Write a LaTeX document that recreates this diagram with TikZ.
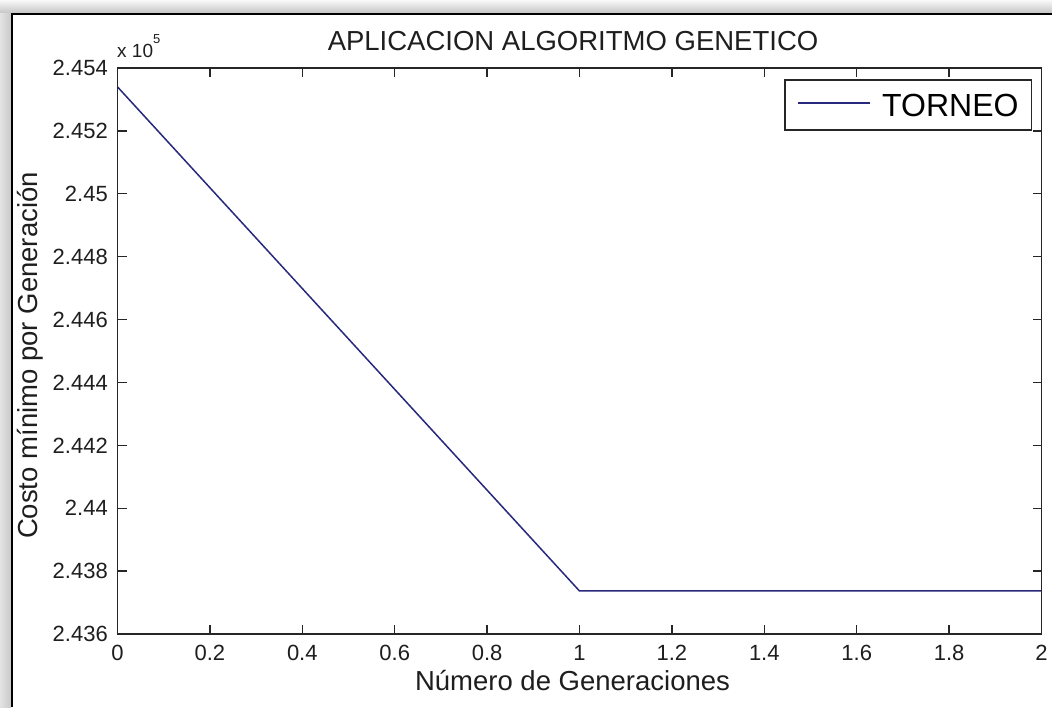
\documentclass[tikz,border=0pt]{standalone}
\usepackage{fontspec}
\setmainfont{Liberation Sans}
\definecolor{plotblue}{RGB}{40,40,125}
\definecolor{txt}{RGB}{30,30,30}
\begin{document}
\begin{tikzpicture}[x=1pt,y=-1pt,
  ticklab/.style={inner sep=0pt,text=txt,font=\fontsize{22}{26}\selectfont},
  axlab/.style={inner sep=0pt,text=txt,font=\fontsize{27.5}{32}\selectfont},
  axline/.style={line width=1.6pt,black!85},
  tickline/.style={line width=1.4pt,black!85},
  dataline/.style={line width=1.5pt,plotblue}]
\useasboundingbox (0,0) rectangle (1052,707);
\fill[white] (0,0) rectangle (1052,707);
% window shadow and frame
\shade[top color=gray!5,bottom color=gray!45] (0,0) rectangle (1052,13);
\shade[left color=gray!22,right color=gray!42] (0,13) rectangle (11,707);
\draw[line width=2.5pt,black] (12,707) -- (12,14) -- (1052,14);
% axes
\begin{scope}[shift={(117.5,634)},x=462pt,y=62.889pt]
  \coordinate (O) at (0,0);
  \coordinate (TR) at (2,9);
  \draw[dataline] (0,8.70) coordinate (d0) -- (1,0.684) coordinate (d1) -- (2,0.684) coordinate (d2);
  \foreach \i/\t in {0/0,1/0.2,2/0.4,3/0.6,4/0.8,5/1,6/1.2,7/1.4,8/1.6,9/1.8,10/2}{
    \draw[tickline] (\i*0.2,0) -- ++(0pt,9pt);
    \draw[tickline] (\i*0.2,9) -- ++(0pt,-9pt);
    \node[ticklab,anchor=north] (xl\i) at ([yshift=-11pt]\i*0.2,0) {\t};
  }
  \foreach \k/\t in {0/2.436,1/2.438,2/2.44,3/2.442,4/2.444,5/2.446,6/2.448,7/2.45,8/2.452,9/2.454}{
    \draw[tickline] (0,\k) -- ++(9pt,0pt);
    \draw[tickline] (2,\k) -- ++(-9pt,0pt);
    \node[ticklab,anchor=east] (yl\k) at ([xshift=-9.5pt]0,\k) {\t};
  }
  \draw[axline] (O) rectangle (TR);
\end{scope}
% exponent
\node[inner sep=0pt,text=txt,anchor=base west,font=\fontsize{19}{22}\selectfont] (expo) at (117,57)
  {x 10\raisebox{14pt}{\fontsize{13}{15}\selectfont 5}};
% title and labels
\node[axlab,anchor=base] (title) at (573,50) {APLICACION ALGORITMO GENETICO};
\node[axlab,anchor=base] (xlab) at (572.5,690) {Número de Generaciones};
\node[axlab,anchor=base,rotate=90] (ylab) at (37,355.5) {Costo mínimo por Generación};
% legend
\draw[line width=1.3pt,black!85,fill=white] (785,80) rectangle (1031.5,130);
\coordinate (ls) at (798,103);
\coordinate (le) at (870,103);
\draw[dataline] (ls) -- (le);
\node[inner sep=0pt,anchor=base west,text=black,font=\fontsize{32}{36}\selectfont] (leg) at (882,116.5) {TORNEO};
\end{tikzpicture}
\end{document}
